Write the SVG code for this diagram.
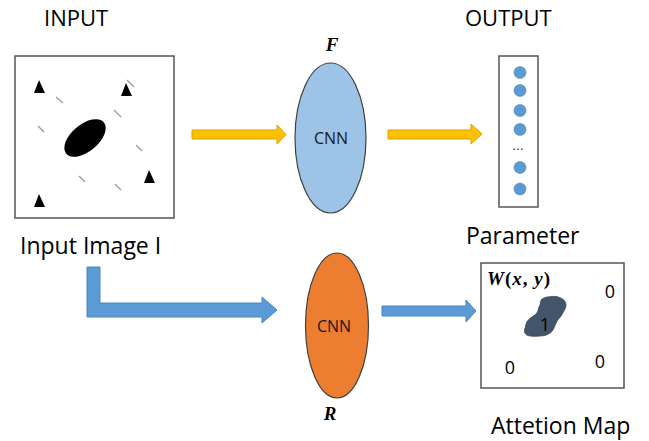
<svg xmlns="http://www.w3.org/2000/svg" width="649" height="441" viewBox="0 0 649 441">
  <style>
    .lbl { font-family: "Open Sans", "Noto Sans", "Liberation Sans", sans-serif; fill: #000; }
    .math { font-family: "Liberation Serif", "DejaVu Serif", serif; font-weight: bold; font-style: italic; fill: #000; }
    .cnn { font-family: "Open Sans", "Noto Sans", sans-serif; font-size: 16px; fill: #1a1a1a; text-anchor: middle; }
    .frame { fill: #fff; stroke: #555; stroke-width: 1.5; }
    .tri { fill: #000; }
    .dash { stroke: #999; stroke-width: 1.2; }
    .dot { fill: #5b9bd5; stroke: #41719c; stroke-width: 0.5; }
    .yarrow { fill: #ffc000; stroke: #d9a400; stroke-width: 1; }
    .barrow { fill: #5b9bd5; stroke: #4a86bd; stroke-width: 1; }
    .num { font-family: "Open Sans", "Noto Sans", sans-serif; font-size: 18px; fill: #000; text-anchor: middle; }
  </style>

  <rect width="649" height="441" fill="#fff"/>

  <!-- headings -->
  <text class="lbl" x="44" y="26" font-size="22">INPUT</text>
  <text class="lbl" x="465" y="26" font-size="22">OUTPUT</text>
  <text class="lbl" x="20" y="254" font-size="23">Input Image I</text>
  <text class="lbl" x="466" y="244" font-size="23">Parameter</text>
  <text class="lbl" x="491" y="434" font-size="23">Attetion Map</text>

  <!-- input image -->
  <g id="input-image">
    <rect class="frame" x="15" y="56" width="159" height="162"/>
    <g class="dash">
      <line x1="56" y1="97" x2="63" y2="103"/>
      <line x1="38" y1="126" x2="44" y2="132"/>
      <line x1="114" y1="110" x2="121" y2="117"/>
      <line x1="127" y1="80" x2="134" y2="87"/>
      <line x1="136" y1="145" x2="142" y2="151"/>
      <line x1="79" y1="176" x2="85" y2="182"/>
      <line x1="115" y1="184" x2="121" y2="190"/>
    </g>
    <polygon class="tri" points="39,80 34,93 45,93"/>
    <polygon class="tri" points="126,83 121,96 132,96"/>
    <polygon class="tri" points="149,170 144,183 155,183"/>
    <polygon class="tri" points="39,194 34,207 45,207"/>
    <ellipse cx="85" cy="138" rx="24.5" ry="13.5" transform="rotate(-40 85 138)" fill="#000"/>
  </g>

  <!-- connectors -->
  <g id="connectors">
    <path class="yarrow" d="M192,130 H277 V125 L286,134.5 L277,144 V139 H192 Z"/>
    <path class="yarrow" d="M388,130 H471 V124 L482,134 L471,144 V139 H388 Z"/>
    <path class="barrow" d="M87,267 H100 V303 H262 V297 L277,310 L262,323 V317 H87 Z"/>
    <path class="barrow" d="M382,306 H466 V300 L476,311 L466,322 V316 H382 Z"/>
  </g>

  <!-- F network -->
  <g id="cnn-f">
    <text class="math" x="332" y="51" font-size="19" text-anchor="middle">F</text>
    <ellipse cx="330.5" cy="138" rx="35.5" ry="75" fill="#9dc3e6" stroke="#404040" stroke-width="1.2"/>
    <text class="cnn" x="331" y="144">CNN</text>
  </g>

  <!-- R network -->
  <g id="cnn-r">
    <ellipse cx="337" cy="325.5" rx="31.5" ry="72.5" fill="#ed7d31" stroke="#404040" stroke-width="1.2"/>
    <text class="cnn" x="334" y="332">CNN</text>
    <text class="math" x="330" y="420" font-size="19" text-anchor="middle">R</text>
  </g>

  <!-- parameter vector -->
  <g id="output-vector">
    <rect class="frame" x="499" y="56" width="39" height="151"/>
    <circle class="dot" cx="520" cy="72.5" r="6"/>
    <circle class="dot" cx="520" cy="90.5" r="6"/>
    <circle class="dot" cx="520" cy="110.5" r="6"/>
    <circle class="dot" cx="520" cy="129.5" r="6"/>
    <text x="518" y="150" font-family="Liberation Sans, sans-serif" font-size="12" text-anchor="middle" fill="#000">…</text>
    <circle class="dot" cx="520" cy="167.5" r="6"/>
    <circle class="dot" cx="520" cy="189" r="6"/>
  </g>

  <!-- attention map -->
  <g id="attention-map">
    <rect class="frame" x="481" y="263" width="143" height="125"/>
    <text class="math" x="487" y="285" font-size="19" letter-spacing="1">W<tspan font-style="normal">(</tspan>x<tspan font-style="normal">,</tspan> y<tspan font-style="normal">)</tspan></text>
    <path d="M541.7,299.3 C545,297 547,297 550,296.7 C554,296 558,296.5 560,297.7 C564,299 566,302 566,305 C566,309 563,312 561.7,315 C560,318 558,319 556.7,321.7 C555,325 554,329 551.7,331.7 C548,335 544,336 540,336 C535,336.5 530,336.5 526.7,335 C524,333 524,330 525,328.3 C526,325 526,322 528.3,320 C531,317 534,316 536.7,313.3 C539,310 538,308 540,305 C541,303 540,301 541.7,299.3 Z" fill="#44546a" stroke="#3a4858" stroke-width="0.8"/>
    <text class="num" x="545" y="331">1</text>
    <text class="num" x="610" y="298">0</text>
    <text class="num" x="600" y="368">0</text>
    <text class="num" x="510" y="374">0</text>
  </g>
</svg>
